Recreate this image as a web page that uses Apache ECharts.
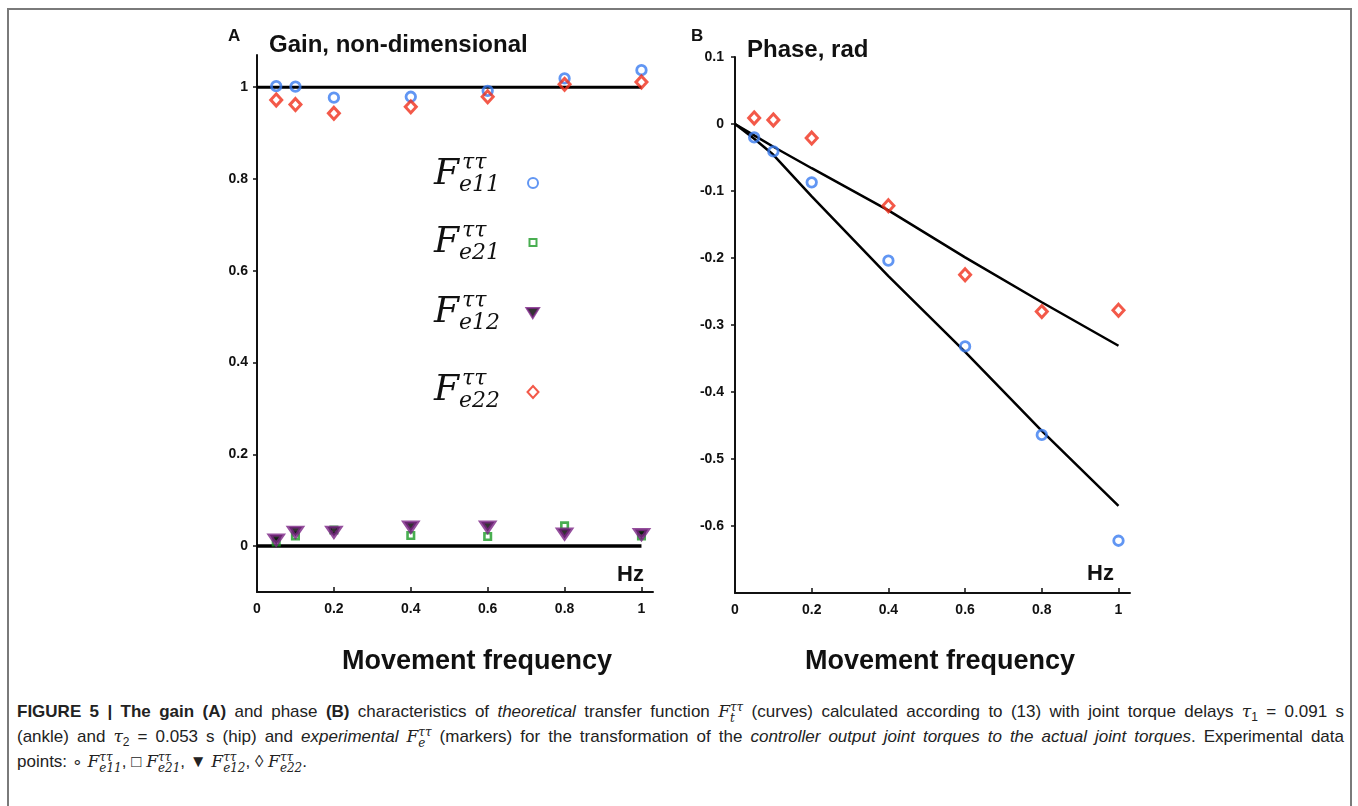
<!DOCTYPE html>
<html>
<head>
<meta charset="utf-8">
<script src="https://cdn.jsdelivr.net/npm/echarts@6/dist/echarts.min.js"></script>
<style>
  html, body { margin:0; padding:0; width:1358px; height:806px; overflow:hidden; background:#fff; }
  #frame { position:absolute; left:7px; top:8px; width:1341px; height:820px; border:2px solid #7a7a7a; border-bottom:none; }
  #chart { position:absolute; left:0; top:0; width:1358px; height:690px; }
  #caption { position:absolute; left:17px; top:699px; width:1327px; font-family:"Liberation Sans", Arial, sans-serif; font-size:17px; color:#222; line-height:25px; }
  #caption .ln { text-align:justify; text-align-last:justify; white-space:nowrap; height:25px; }
  #caption .ln.last { text-align:left; text-align-last:left; }
  #caption sub { line-height:0; font-size:12px; }
  .m { font-family:"DejaVu Serif","Liberation Serif",serif; font-style:italic; }
  .st { display:inline-flex; flex-direction:column; justify-content:center; height:0; vertical-align:middle; line-height:11px; font-size:12px; font-style:italic; font-family:"DejaVu Serif","Liberation Serif",serif; }
  .st span { display:block; }
</style>
</head>
<body>
<div id="frame"></div>
<div id="chart"></div>
<div id="caption">
  <div class="ln"><b>FIGURE 5 | The gain (A)</b> and phase <b>(B)</b> characteristics of <i>theoretical</i> transfer function <span class="m">F</span><span class="st"><span>ττ</span><span>t</span></span> (curves) calculated according to (13) with joint torque delays <span class="m">τ</span><sub>1</sub> = 0.091 s</div>
  <div class="ln">(ankle) and <span class="m">τ</span><sub>2</sub> = 0.053 s (hip) and <i>experimental</i> <span class="m">F</span><span class="st"><span>ττ</span><span>e</span></span> (markers) for the transformation of the <i>controller output joint torques to the actual joint torques</i>. Experimental data</div>
  <div class="ln last">points: ∘ <span class="m">F</span><span class="st"><span>ττ</span><span>e11</span></span>, □ <span class="m">F</span><span class="st"><span>ττ</span><span>e21</span></span>, ▼ <span class="m">F</span><span class="st"><span>ττ</span><span>e12</span></span>, ◊ <span class="m">F</span><span class="st"><span>ττ</span><span>e22</span></span>.</div>
</div>
<script>
// ---- data ----
const freqs = [0.05, 0.1, 0.2, 0.4, 0.6, 0.8, 1.0];
const gainE11 = [1.002, 1.001, 0.977, 0.979, 0.992, 1.019, 1.037];
const gainE22 = [0.972, 0.962, 0.943, 0.957, 0.979, 1.006, 1.011];
const gainE21 = [0.009, 0.022, 0.035, 0.023, 0.021, 0.044, 0.022];
const gainE12 = [0.014, 0.031, 0.031, 0.042, 0.042, 0.027, 0.026];
const theoryGainFreqs = [0, 1];
const theoryGainDiag = [1, 1];
const theoryGainOff = [0, 0];

const phaseE11 = [-0.020, -0.041, -0.087, -0.204, -0.332, -0.464, -0.622];
const phaseE22 = [0.009, 0.006, -0.021, -0.122, -0.225, -0.280, -0.278];
const theoryFreqs = [0, 0.05, 0.1, 0.2, 0.4, 0.6, 0.8, 1.0];
const theoryPhaseT1 = [0, -0.022, -0.046, -0.108, -0.227, -0.340, -0.458, -0.570];
const theoryPhaseT2 = [0, -0.017, -0.034, -0.066, -0.129, -0.199, -0.266, -0.331];

const xTicks = [0, 0.2, 0.4, 0.6, 0.8, 1];
const gainTicks = [0, 0.2, 0.4, 0.6, 0.8, 1];
const phaseTicks = [0.1, 0, -0.1, -0.2, -0.3, -0.4, -0.5, -0.6];

const legendNames = ['e11', 'e21', 'e12', 'e22'];

// ---- styles ----
const BLUE = '#3a7cf0', RED = '#f0301c', GREEN = '#1c9a26', PURPLE = '#7a2384';
const TRI_DOWN = 'path://M0,0 L10,0 L5,8 Z';
const zip = (xs, ys) => xs.map((x, i) => [x, ys[i]]);
const tickFont = { fontFamily: '"Liberation Sans", Arial, sans-serif', fontWeight: 'bold', fontSize: 14, color: '#111' };

function xAxisCfg(gridIndex) {
  return {
    type: 'value', gridIndex, min: 0, max: 1.03,
    axisLine: { onZero: false, lineStyle: { color: '#111', width: 2 } },
    axisTick: { inside: true, length: 5, customValues: xTicks, lineStyle: { color: '#111', width: 1.5 } },
    axisLabel: Object.assign({ customValues: xTicks, margin: 10 }, tickFont),
    splitLine: { show: false }
  };
}
function yAxisCfg(gridIndex, min, max, ticks, margin) {
  return {
    type: 'value', gridIndex, min, max,
    axisLine: { onZero: false, lineStyle: { color: '#111', width: 2 } },
    axisTick: { length: 4, customValues: ticks, lineStyle: { color: '#111', width: 1.5 } },
    axisLabel: Object.assign({ customValues: ticks, margin }, tickFont),
    splitLine: { show: false }
  };
}

const circleStyle = { color: 'rgba(0,0,0,0)', borderColor: BLUE, borderWidth: 2.8 };
const diamondStyle = { color: 'rgba(0,0,0,0)', borderColor: RED, borderWidth: 3 };
const squareStyle = { color: 'rgba(0,0,0,0)', borderColor: GREEN, borderWidth: 2.6 };
const triStyle = { color: '#000', borderColor: PURPLE, borderWidth: 3.5 };

const series = [
  { name: 'diagLine', type: 'line', xAxisIndex: 0, yAxisIndex: 0, data: zip(theoryGainFreqs, theoryGainDiag), symbol: 'none', lineStyle: { color: '#000', width: 3 }, z: 2 },
  { name: 'offLine', type: 'line', xAxisIndex: 0, yAxisIndex: 0, data: zip(theoryGainFreqs, theoryGainOff), symbol: 'none', lineStyle: { color: '#000', width: 3.5 }, z: 2 },
  { name: 'e21', type: 'scatter', xAxisIndex: 0, yAxisIndex: 0, data: zip(freqs, gainE21), symbol: 'rect', symbolSize: 6.5, itemStyle: squareStyle, z: 3 },
  { name: 'e12', type: 'scatter', xAxisIndex: 0, yAxisIndex: 0, data: zip(freqs, gainE12), symbol: TRI_DOWN, symbolSize: [13, 9.5], itemStyle: triStyle, z: 4 },
  { name: 'e11', type: 'scatter', xAxisIndex: 0, yAxisIndex: 0, data: zip(freqs, gainE11), symbol: 'circle', symbolSize: 9.5, itemStyle: circleStyle, z: 3 },
  { name: 'e22', type: 'scatter', xAxisIndex: 0, yAxisIndex: 0, data: zip(freqs, gainE22), symbol: 'diamond', symbolSize: [11, 12], itemStyle: diamondStyle, z: 4 },
  { name: 't1', type: 'line', xAxisIndex: 1, yAxisIndex: 1, data: zip(theoryFreqs, theoryPhaseT1), symbol: 'none', lineStyle: { color: '#000', width: 2.5 }, z: 2 },
  { name: 't2', type: 'line', xAxisIndex: 1, yAxisIndex: 1, data: zip(theoryFreqs, theoryPhaseT2), symbol: 'none', lineStyle: { color: '#000', width: 2.5 }, z: 2 },
  { name: 'e11', type: 'scatter', xAxisIndex: 1, yAxisIndex: 1, data: zip(freqs, phaseE11), symbol: 'circle', symbolSize: 9.5, itemStyle: circleStyle, z: 3 },
  { name: 'e22', type: 'scatter', xAxisIndex: 1, yAxisIndex: 1, data: zip(freqs, phaseE22), symbol: 'diamond', symbolSize: [11, 12], itemStyle: diamondStyle, z: 3 }
];

// legend icons (one legend per entry, placed beside the math labels)
const legendTops = [177, 238, 307, 385];
const legendIcons = ['circle', 'rect', TRI_DOWN, 'diamond'];
const legendIconSizes = [[10, 10], [7, 7], [13, 10], [11, 12]];
const legends = legendNames.map((n, i) => ({
  data: [{ name: n, icon: legendIcons[i] }], left: 532 - legendIconSizes[i][0] / 2, top: legendTops[i], orient: 'vertical',
  itemWidth: legendIconSizes[i][0], itemHeight: legendIconSizes[i][1],
  formatter: () => '', selectedMode: false, padding: 0, itemGap: 0
}));

// math labels for the legend
const mathCenters = [175, 243, 313, 391];
const mathGraphics = [];
legendNames.forEach((n, i) => {
  const cy = mathCenters[i];
  mathGraphics.push(
    { type: 'text', x: 434, y: cy, style: { text: 'F', font: 'italic 36px "DejaVu Serif", serif', fill: '#111', textVerticalAlign: 'middle', textAlign: 'left' } },
    { type: 'text', x: 462, y: cy - 12, style: { text: 'ττ', font: 'italic 22px "DejaVu Serif", serif', fill: '#111', textVerticalAlign: 'middle', textAlign: 'left' } },
    { type: 'text', x: 459, y: cy + 10, style: { text: n, font: 'italic 22px "DejaVu Serif", serif', fill: '#111', textVerticalAlign: 'middle', textAlign: 'left' } }
  );
});

const bold = (size) => 'bold ' + size + 'px "Liberation Sans", Arial, sans-serif';
const labelGraphics = [
  { type: 'text', x: 228, y: 36, style: { text: 'A', font: bold(17), fill: '#111', textVerticalAlign: 'middle' } },
  { type: 'text', x: 269, y: 45, style: { text: 'Gain, non-dimensional', font: bold(24), fill: '#111', textVerticalAlign: 'middle' } },
  { type: 'text', x: 691, y: 36, style: { text: 'B', font: bold(17), fill: '#111', textVerticalAlign: 'middle' } },
  { type: 'text', x: 747, y: 50, style: { text: 'Phase, rad', font: bold(24), fill: '#111', textVerticalAlign: 'middle' } },
  { type: 'text', x: 617, y: 575, style: { text: 'Hz', font: bold(22), fill: '#111', textVerticalAlign: 'middle' } },
  { type: 'text', x: 1087, y: 574, style: { text: 'Hz', font: bold(22), fill: '#111', textVerticalAlign: 'middle' } },
  { type: 'text', x: 477, y: 662, style: { text: 'Movement frequency', font: bold(27), fill: '#111', textVerticalAlign: 'middle', textAlign: 'center' } },
  { type: 'text', x: 940, y: 662, style: { text: 'Movement frequency', font: bold(27), fill: '#111', textVerticalAlign: 'middle', textAlign: 'center' } }
];

const chart = echarts.init(document.getElementById('chart'), null, { renderer: 'canvas' });
chart.setOption({
  animation: false,
  backgroundColor: 'transparent',
  grid: [
    { left: 257, top: 55, width: 396, height: 537 },
    { left: 735, top: 57, width: 395, height: 536 }
  ],
  xAxis: [xAxisCfg(0), xAxisCfg(1)],
  yAxis: [yAxisCfg(0, -0.1, 1.07, gainTicks, 9), yAxisCfg(1, -0.7, 0.1, phaseTicks, 11)],
  legend: legends,
  series,
  graphic: labelGraphics.concat(mathGraphics)
});
</script>
</body>
</html>
